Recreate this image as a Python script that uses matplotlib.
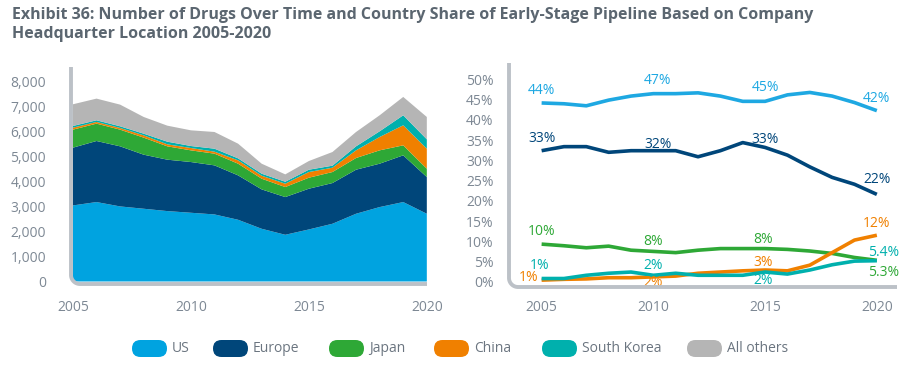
import numpy as np
import matplotlib
matplotlib.use('Agg')
import matplotlib.pyplot as plt
from matplotlib.patches import FancyBboxPatch
from matplotlib.lines import Line2D
from matplotlib.transforms import IdentityTransform

plt.rcParams['font.family'] = ['Open Sans', 'DejaVu Sans']

# data
years = list(range(2005, 2021))
regions = ['US', 'Europe', 'Japan', 'China', 'South Korea', 'All others']
colors = ['#00a3e0', '#00467a', '#2ea836', '#f08000', '#00b0ad', '#b5b5b5']

# number of drugs (stacked area)
us_n = [3050, 3185, 3010, 2917, 2823, 2756, 2689, 2475, 2114, 1873, 2087, 2315, 2716, 2984, 3185, 2716]
europe_n = [2315, 2448, 2409, 2167, 2061, 2034, 1967, 1780, 1579, 1512, 1633, 1632, 1766, 1739, 1873, 1472]
japan_n = [723, 696, 669, 683, 535, 468, 469, 468, 428, 402, 441, 442, 469, 535, 401, 334]
china_n = [80, 67, 67, 93, 80, 94, 80, 134, 120, 133, 228, 174, 307, 535, 803, 803]
korea_n = [67, 67, 67, 67, 107, 80, 120, 80, 81, 80, 93, 80, 161, 228, 401, 375]
others_n = [870, 869, 869, 669, 642, 629, 669, 589, 401, 295, 348, 548, 575, 642, 736, 896]

# share of early-stage pipeline (%)
us_pct = [44.2, 44.0, 43.5, 44.9, 45.9, 46.5, 46.5, 46.7, 45.9, 44.6, 44.6, 46.2, 46.8, 45.9, 44.3, 42.3]
europe_pct = [32.4, 33.4, 33.4, 32.0, 32.4, 32.4, 32.4, 30.9, 32.4, 34.4, 33.2, 31.3, 28.4, 25.8, 24.1, 21.6]
japan_pct = [9.3, 8.9, 8.4, 8.8, 7.8, 7.5, 7.2, 7.8, 8.2, 8.2, 8.2, 8.0, 7.6, 7.0, 6.0, 5.3]
china_pct = [0.4, 0.6, 0.7, 1.0, 1.0, 1.2, 1.4, 2.1, 2.4, 2.7, 2.9, 2.7, 4.1, 7.2, 10.3, 11.5]
korea_pct = [0.8, 0.8, 1.6, 2.1, 2.4, 1.6, 2.1, 1.6, 1.6, 1.6, 2.4, 1.9, 2.9, 4.2, 5.1, 5.2]

tick_col = '#7d8894'
spine_col = '#bcc1c7'

fig = plt.figure(figsize=(9.12, 3.74), dpi=100)

fig.text(0.013, 0.982, 'Exhibit 36: Number of Drugs Over Time and Country Share of Early-Stage Pipeline Based on Company\nHeadquarter Location 2005-2020',
         fontsize=11.5, fontweight='bold', color='#5b6670', va='top', ha='left',
         linespacing=1.3)


def rounded_spine(x0, y0, x1, y1, r=9):
    # left + bottom axis line with rounded corner, pixel coords (y from top)
    t = np.linspace(np.pi, 1.5 * np.pi, 20)
    cx = x0 + r + r * np.cos(t)
    cy = y1 - r - r * np.sin(t)
    xs = np.concatenate([[x0], cx, [x1]])
    ys = np.concatenate([[y0], cy, [y1]])
    fig.add_artist(Line2D(xs / 912, 1 - ys / 374, transform=fig.transFigure,
                          color=spine_col, lw=2.8, zorder=5, solid_capstyle='butt'))


# left: stacked area
ax1 = fig.add_axes([0.0779, 0.2433, 0.3914, 0.5776])
ax1.stackplot(years, us_n, europe_n, japan_n, china_n, korea_n, others_n, colors=colors, lw=0)
ax1.set_xlim(2004.92, 2020.05)
ax1.set_ylim(-60, 8600)
ax1.set_yticks(range(0, 8001, 1000))
ax1.set_yticklabels([f'{v:,}' for v in range(0, 8001, 1000)])
ax1.set_xticks([2005, 2010, 2015, 2020])
for s in ax1.spines.values():
    s.set_visible(False)
ax1.tick_params(length=0, labelsize=10, colors=tick_col)
ax1.tick_params(axis='y', pad=18)
ax1.tick_params(axis='x', pad=12)
rounded_spine(71, 67, 427, 284)

# right: share lines
ax2 = fig.add_axes([0.5581, 0.2326, 0.4254, 0.5981])
series = [us_pct, europe_pct, japan_pct, china_pct, korea_pct]
line_cols = ['#1ea8e2', '#00467a', '#2ea836', '#f08000', '#00b0ad']
for vals, c in zip(series, line_cols):
    ax2.plot(years, vals, color=c, lw=2.6, solid_capstyle='butt')
ax2.set_xlim(2003.54, 2020.9)
ax2.set_ylim(-1.3, 54)
ax2.set_yticks(range(0, 51, 5))
ax2.set_yticklabels([f'{v}%' for v in range(0, 51, 5)])
ax2.set_xticks([2005, 2010, 2015, 2020])
for s in ax2.spines.values():
    s.set_visible(False)
ax2.tick_params(length=0, labelsize=10, colors=tick_col)
ax2.tick_params(axis='y', pad=11)
ax2.tick_params(axis='x', pad=9)
rounded_spine(509, 63, 897, 287)

# point labels: (text, x, y, color)
labels = [
    ('44%', 2005, 47.2, line_cols[0]), ('47%', 2010.2, 49.7, line_cols[0]),
    ('45%', 2015, 48.0, line_cols[0]), ('42%', 2020, 45.3, line_cols[0]),
    ('33%', 2005, 35.5, line_cols[1]), ('32%', 2010.2, 34.0, line_cols[1]),
    ('33%', 2015, 35.2, line_cols[1]), ('22%', 2020, 25.2, line_cols[1]),
    ('10%', 2005, 12.5, line_cols[2]), ('8%', 2010, 10.0, line_cols[2]),
    ('8%', 2014.9, 10.4, line_cols[2]), ('5.3%', 2020.3, 2.3, line_cols[2]),
    ('1%', 2004.4, 1.1, line_cols[3]), ('2%', 2010, -0.3, line_cols[3]),
    ('3%', 2014.9, 4.8, line_cols[3]), ('12%', 2020, 14.4, line_cols[3]),
    ('1%', 2004.9, 4.1, line_cols[4]), ('2%', 2010, 4.1, line_cols[4]),
    ('2%', 2014.9, 0.4, line_cols[4]), ('5.4%', 2020.3, 7.3, line_cols[4]),
]
for t, x, y, c in labels:
    ax2.text(x, y, t, color=c, fontsize=10, ha='center', va='center', clip_on=False)

# legend with pill patches (pixel positions)
leg_x = [132, 213, 329, 434, 542, 687]
for name, c, x in zip(regions, colors, leg_x):
    pill = FancyBboxPatch((x, 374 - 357), 35, 17,
                          boxstyle='round,pad=0,rounding_size=8.5',
                          transform=IdentityTransform(), fc=c, ec='none')
    fig.patches.append(pill)
    fig.text((x + 40) / 912, 1 - 349 / 374, name, fontsize=10, color='#6b7580',
             va='center', ha='left')

fig.savefig('out.png', dpi=100)
